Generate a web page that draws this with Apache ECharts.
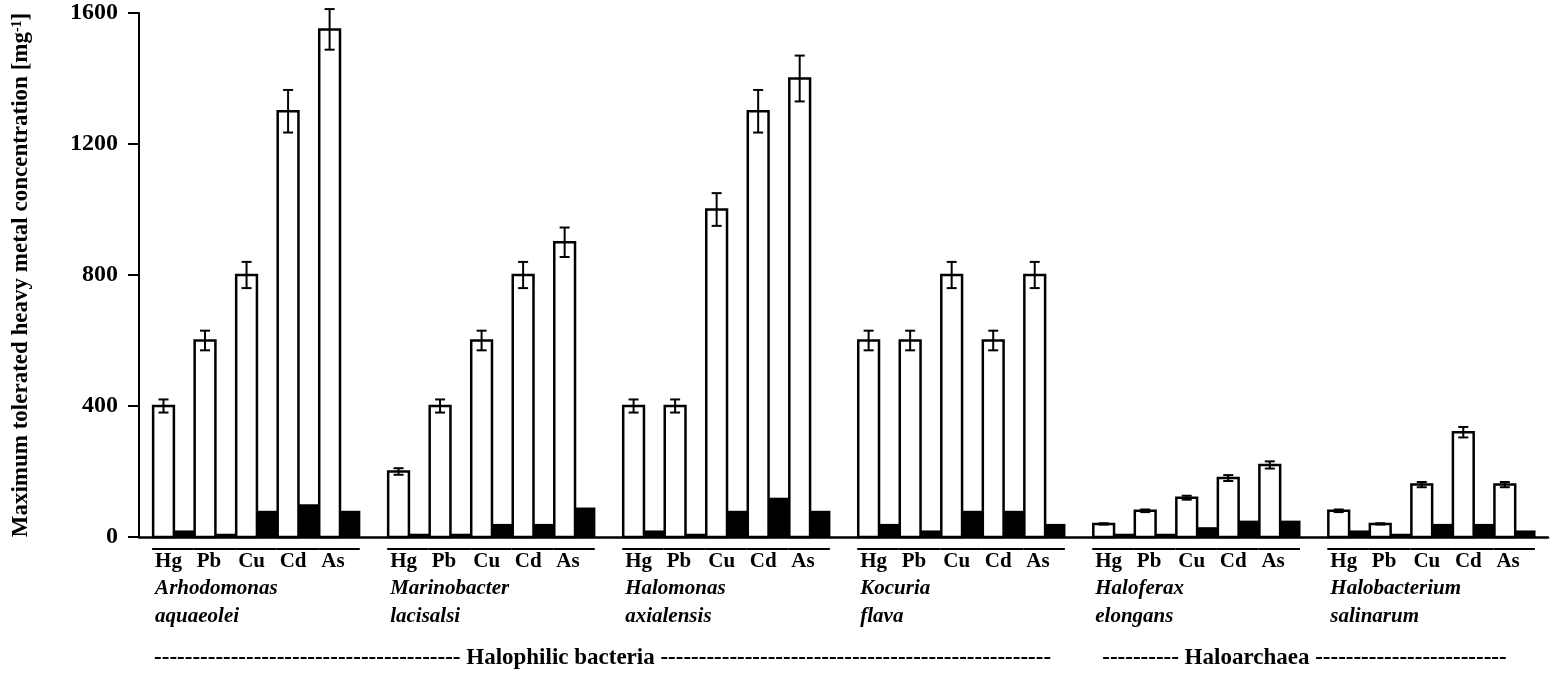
<!DOCTYPE html>
<html lang="en">
<head>
<meta charset="utf-8" />
<style>
    html, body { margin: 0; padding: 0; background: #fff; overflow: hidden; }
    .box { width: 1554px; height: 673px; }
</style>
</head>
<body>
<div class="box"></div>
<script src="https://cdn.jsdelivr.net/npm/echarts@6/dist/echarts.min.js"></script>
<script>
// metals on each organism
var metals = ['Hg', 'Pb', 'Cu', 'Cd', 'As'];
// organism names (two lines each)
var speciesGenus = ['Arhodomonas', 'Marinobacter', 'Halomonas', 'Kocuria', 'Haloferax', 'Halobacterium'];
var speciesEpithet = ['aquaeolei', 'lacisalsi', 'axialensis', 'flava', 'elongans', 'salinarum'];

// white bars: maximum tolerated concentration, one row per organism (Hg, Pb, Cu, Cd, As)
var tolerated = [
    [400, 600, 800, 1300, 1550],
    [200, 400, 600, 800, 900],
    [400, 400, 1000, 1300, 1400],
    [600, 600, 800, 600, 800],
    [40, 80, 120, 180, 220],
    [80, 40, 160, 320, 160]
];
// error bars on the white bars (+/-)
var toleratedErr = [
    [20, 30, 40, 65, 62],
    [10, 20, 30, 40, 45],
    [20, 20, 50, 65, 70],
    [30, 30, 40, 30, 40],
    [2, 4, 6, 9, 11],
    [4, 2, 8, 16, 8]
];
// black bars
var blackBars = [
    [20, 10, 80, 100, 80],
    [10, 10, 40, 40, 90],
    [20, 10, 80, 120, 80],
    [40, 20, 80, 80, 40],
    [10, 10, 30, 50, 50],
    [20, 10, 40, 40, 20]
];
var yTicks = [0, 400, 800, 1200, 1600];

// layout on the x value axis (units = one metal slot)
var OFFSET = 0.34, PITCH = 5.66, XMAX = 33.93;
var FONT = "'Liberation Serif', 'Times New Roman', serif";

(function () {
    var myChart = echarts.init(document.querySelector('.box'));

    var whiteData = [], blackData = [], errData = [], labelData = [];
    tolerated.forEach(function (row, g) {
        row.forEach(function (v, m) {
            var x = OFFSET + g * PITCH + m;
            whiteData.push([x, v]);
            blackData.push([x, blackBars[g][m]]);
            errData.push([x, v, toleratedErr[g][m]]);
            labelData.push([x, m, g]);
        });
    });

    function barItem(params, api, left, right, style) {
        var x = api.value(0), v = api.value(1);
        var p0 = api.coord([x + left, 0]);
        var p1 = api.coord([x + right, v]);
        return {
            type: 'rect',
            shape: { x: p0[0], y: p1[1], width: p1[0] - p0[0], height: p0[1] - p1[1] },
            style: style
        };
    }

    var option = {
        animation: false,
        grid: { left: 139, right: 6, top: 13, bottom: 136, containLabel: false, outerBoundsMode: 'none' },
        xAxis: {
            type: 'value',
            min: 0,
            max: XMAX,
            axisLine: { show: true, onZero: false, lineStyle: { color: '#000', width: 2.5 } },
            axisTick: { show: false },
            axisLabel: { show: false },
            splitLine: { show: false }
        },
        yAxis: {
            type: 'value',
            min: yTicks[0],
            max: yTicks[yTicks.length - 1],
            interval: 400,
            name: 'Maximum tolerated heavy metal concentration [mg{sup|-1}]',
            nameLocation: 'middle',
            nameGap: 106,
            nameTextStyle: {
                fontFamily: FONT, fontWeight: 'bold', fontSize: 23, color: '#000',
                padding: [0, 0, 0, 0],
                rich: {
                    sup: { fontFamily: FONT, fontWeight: 'bold', fontSize: 14, verticalAlign: 'top', color: '#000' }
                }
            },
            axisLine: { show: true, lineStyle: { color: '#000', width: 2 } },
            axisTick: { show: true, inside: false, length: 11, lineStyle: { color: '#000', width: 2 } },
            axisLabel: {
                fontFamily: FONT, fontWeight: 'bold', fontSize: 24, color: '#000', margin: 21,
                formatter: function (v) { return String(v); }
            },
            splitLine: { show: false }
        },
        series: [{
            type: 'custom',
            name: 'white',
            data: whiteData,
            renderItem: function (params, api) {
                return barItem(params, api, 0, 0.5, { fill: '#fff', stroke: '#000', lineWidth: 2.5 });
            },
            z: 2
        }, {
            type: 'custom',
            name: 'black',
            data: blackData,
            renderItem: function (params, api) {
                return barItem(params, api, 0.5, 0.99, { fill: '#000' });
            },
            z: 1
        }, {
            type: 'custom',
            name: 'error',
            data: errData,
            renderItem: function (params, api) {
                var x = api.value(0) + 0.25, v = api.value(1), e = api.value(2);
                var hi = api.coord([x, v + e]), lo = api.coord([x, v - e]);
                var st = { stroke: '#000', lineWidth: 2 };
                return {
                    type: 'group',
                    children: [
                        { type: 'line', shape: { x1: hi[0], y1: hi[1], x2: lo[0], y2: lo[1] }, style: st },
                        { type: 'line', shape: { x1: hi[0] - 5, y1: hi[1], x2: hi[0] + 5, y2: hi[1] }, style: st },
                        { type: 'line', shape: { x1: lo[0] - 5, y1: lo[1], x2: lo[0] + 5, y2: lo[1] }, style: st }
                    ]
                };
            },
            z: 3
        }, {
            type: 'custom',
            name: 'labels',
            data: labelData,
            clip: false,
            silent: true,
            renderItem: function (params, api) {
                var x = api.value(0), m = api.value(1), g = api.value(2);
                var a = api.coord([x, 0]), b = api.coord([x + 1, 0]);
                var y0 = a[1];
                var kids = [
                    { type: 'line', shape: { x1: a[0] - 1, y1: y0 + 12, x2: b[0] - 1, y2: y0 + 12 },
                      style: { stroke: '#000', lineWidth: 2 } },
                    { type: 'text', x: a[0] + 2, y: y0 + 25,
                      style: { text: metals[m], font: 'bold 21px ' + FONT, fill: '#000', verticalAlign: 'middle' } }
                ];
                if (m === 0) {
                    kids.push({ type: 'text', x: a[0] + 2, y: y0 + 52,
                        style: { text: speciesGenus[g], font: 'italic bold 21px ' + FONT, fill: '#000', verticalAlign: 'middle' } });
                    kids.push({ type: 'text', x: a[0] + 2, y: y0 + 80,
                        style: { text: speciesEpithet[g], font: 'italic bold 21px ' + FONT, fill: '#000', verticalAlign: 'middle' } });
                }
                return { type: 'group', children: kids };
            },
            z: 4
        }]
    };

    myChart.setOption(option);

    // group captions below the organism names
    function dashes(n) { return new Array(n + 1).join('-'); }
    var bx = myChart.convertToPixel({ xAxisIndex: 0 }, OFFSET);
    var ax = myChart.convertToPixel({ xAxisIndex: 0 }, OFFSET + 4 * PITCH);
    var y0 = myChart.convertToPixel({ yAxisIndex: 0 }, 0);
    myChart.setOption({
        graphic: [{
            type: 'text', left: bx + 1, top: y0 + 110,
            style: { text: dashes(40) + ' Halophilic bacteria ' + dashes(51), font: 'bold 23px ' + FONT, fill: '#000' }
        }, {
            type: 'text', left: ax + 9, top: y0 + 110,
            style: { text: dashes(10) + ' Haloarchaea ' + dashes(25), font: 'bold 23px ' + FONT, fill: '#000' }
        }]
    });
})();
</script>
</body>
</html>
